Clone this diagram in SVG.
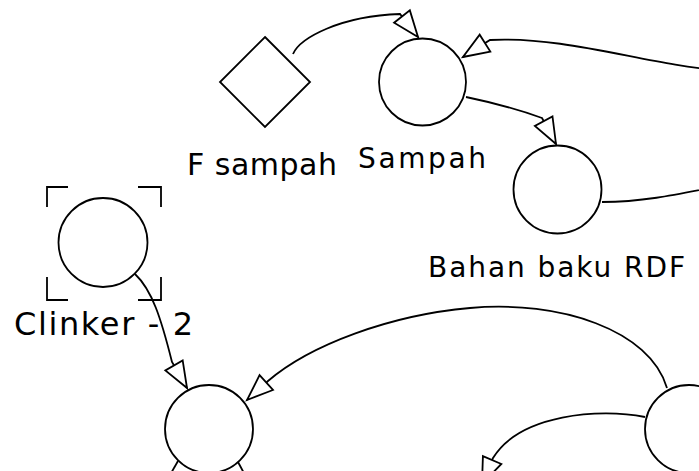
<svg xmlns="http://www.w3.org/2000/svg" width="699" height="471" viewBox="0 0 699 471">
  <style>
    .node { fill: #fff; stroke: #000; stroke-width: 1.8; }
    .bracket { fill: none; stroke: #000; stroke-width: 1.8; }
    .link { fill: none; stroke: #000; stroke-width: 1.8; }
    .label { font-family: "DejaVu Sans", "Liberation Sans", sans-serif; fill: #000; }
  </style>
  <defs>
    <marker id="head" markerUnits="userSpaceOnUse" viewBox="-30 -13 33 26" refX="0" refY="0" markerWidth="33" markerHeight="26" orient="auto">
      <path d="M0,0 L-26,-10 L-26,10 Z" fill="#fff" stroke="#000" stroke-width="1.8"/>
    </marker>
  </defs>
  <rect width="699" height="471" fill="#fff"/>

  <!-- connectors -->
  <g id="connectors">
    <path class="link" d="M293,54 C300,38 340,16 400,14 L418,37" marker-end="url(#head)"/>
    <path class="link" d="M720,70 C650,66 570,36 490,40 L463,57" marker-end="url(#head)"/>
    <path class="link" d="M466,97 C490,102 520,110 542,118 L556,144" marker-end="url(#head)"/>
    <path class="link" d="M602,202 C640,202 670,196 720,186"/>
    <path class="link" d="M135,274 C152,290 161,318 172,362 L187,388" marker-end="url(#head)"/>
    <path class="link" d="M667,388 C650,330 560,300 470,308 C390,315 310,345 268,381 L247,400" marker-end="url(#head)"/>
    <path class="link" d="M645,417 C600,408 520,414 493,458 L482,484" marker-end="url(#head)"/>
    <path class="link" d="M178,461 L170,475"/>
    <path class="link" d="M238,462 L245,475"/>
  </g>

  <!-- nodes -->
  <g id="f-sampah">
    <polygon class="node" points="265,37 310,82 265,127 220,82"/>
    <text class="label" x="187" y="175" font-size="30" textLength="150" lengthAdjust="spacing">F sampah</text>
  </g>
  <g id="sampah">
    <circle class="node" cx="422.5" cy="82" r="43.5"/>
    <text class="label" x="358" y="168" font-size="28" textLength="128" lengthAdjust="spacing">Sampah</text>
  </g>
  <g id="bahan-baku-rdf">
    <circle class="node" cx="557.5" cy="189.5" r="44"/>
    <text class="label" x="428" y="277" font-size="28" textLength="257" lengthAdjust="spacing">Bahan baku RDF</text>
  </g>
  <g id="clinker-2">
    <path class="bracket" d="M47,207 V187 H68 M138,187 H161 V207 M47,277 V300 H68 M138,300 H161 V277"/>
    <circle class="node" cx="103" cy="242.5" r="44.5"/>
    <text class="label" x="14" y="335" font-size="32" textLength="179" lengthAdjust="spacing">Clinker - 2</text>
  </g>
  <g id="stock-bottom-left">
    <circle class="node" cx="209" cy="429" r="44"/>
  </g>
  <g id="stock-bottom-right">
    <circle class="node" cx="689" cy="429" r="44"/>
  </g>
</svg>
